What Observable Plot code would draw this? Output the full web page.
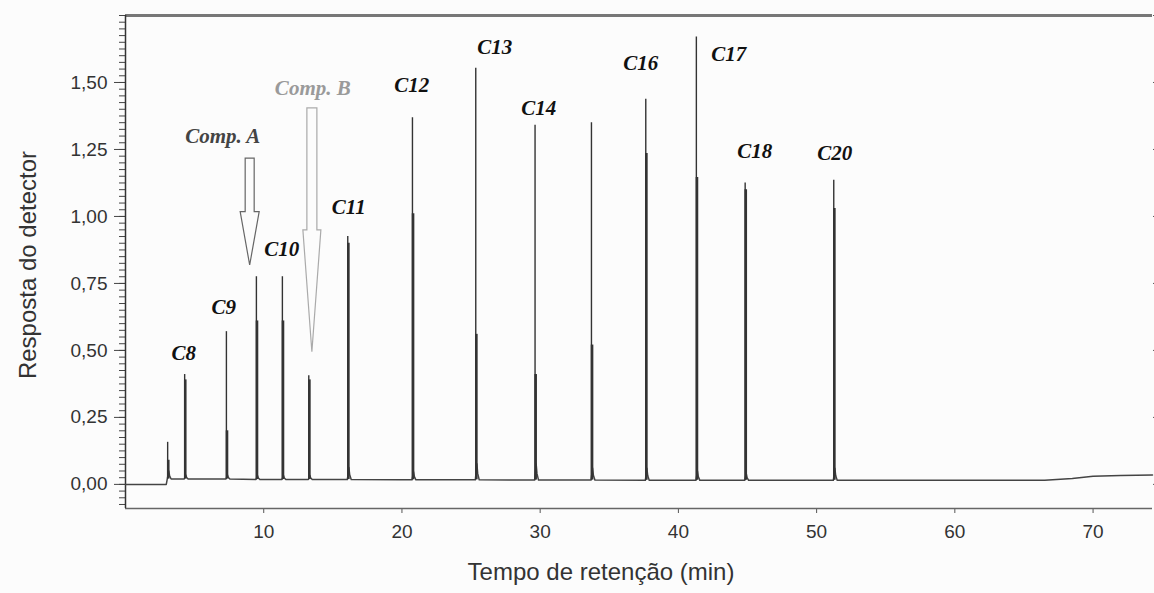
<!DOCTYPE html>
<html>
<head>
<meta charset="utf-8">
<script src="https://cdn.jsdelivr.net/npm/d3@7"></script>
<script src="https://cdn.jsdelivr.net/npm/@observablehq/plot@0.6"></script>
<style>
  html, body { margin: 0; padding: 0; background: #fcfcfc; }
  #chart { width: 1154px; height: 593px; }
</style>
</head>
<body>
<div id="chart"></div>
<script>
// ---- Data ----
const peakTimes     = [3.05, 4.28, 7.30, 9.47, 11.35, 13.26, 16.08, 20.76, 25.34, 29.63, 33.71, 37.64, 41.30, 44.83, 51.24];
const peakTops      = [0.157, 0.41, 0.57, 0.775, 0.775, 0.405, 0.925, 1.368, 1.553, 1.340, 1.350, 1.437, 1.670, 1.125, 1.135];
const peakShoulders = [0.09, 0.39, 0.20, 0.61, 0.61, 0.39, 0.90, 1.01, 0.56, 0.41, 0.52, 1.235, 1.145, 1.10, 1.03];
const peakTails     = [0.03, 0.015, 0.015, 0.015, 0.015, 0.015, 0.045, 0.03, 0.06, 0.06, 0.045, 0.045, 0.035, 0.025, 0.045];
const peakBases     = [0.02, 0.02, 0.02, 0.018, 0.018, 0.018, 0.018, 0.017, 0.017, 0.016, 0.016, 0.015, 0.015, 0.015, 0.015];

const baseTimes  = [0, 2.95, 5.5, 20, 40, 60, 66.5, 68.5, 70, 72, 74.3];
const baseLevels = [0, 0, 0.02, 0.017, 0.015, 0.015, 0.015, 0.022, 0.03, 0.033, 0.035];

const labelTexts = ["C8", "C9", "Comp. A", "C10", "Comp. B", "C11", "C12", "C13", "C14", "C16", "C17", "C18", "C20"];
const labelX     = [4.21, 7.11, 7.03, 11.30, 13.55, 16.15, 20.71, 26.71, 29.90, 37.28, 43.65, 45.53, 51.32];
const labelY     = [0.49, 0.66, 1.30, 0.877, 1.48, 1.034, 1.489, 1.63, 1.403, 1.571, 1.604, 1.243, 1.235];
const labelKind  = ["c", "c", "a", "c", "b", "c", "c", "c", "c", "c", "c", "c", "c"];

const arrowNames = ["Comp. A", "Comp. B"];
const arrowX     = [9.02, 13.52];
const arrowTop   = [1.216, 1.403];
const arrowHead  = [1.016, 0.948];
const arrowTip   = [0.817, 0.493];

const yMajorTicks = [0, 0.25, 0.5, 0.75, 1.0, 1.25, 1.5];
const yMinorTicks = d3.range(-3, 71).map(i => i * 0.025);
const yRightTicks = [0, 0.25, 0.5, 0.75, 1.0, 1.25, 1.5, 1.75];
const xTicks = [10, 20, 30, 40, 50, 60, 70];

// ---- Build tables ----
const peaks = peakTimes.map((t, i) => ({t, top: peakTops[i], shoulder: peakShoulders[i], tail: peakTails[i], base: peakBases[i]}));
let basePts = baseTimes.map((t, i) => ({t, v: baseLevels[i]}));
peaks.forEach(p => {
  basePts.push({t: p.t - 0.03, v: p.base});
  basePts.push({t: p.t + 0.08, v: p.base + p.tail});
  basePts.push({t: p.t + 0.14, v: p.base + p.tail * 0.4});
  basePts.push({t: p.t + 0.25, v: p.base});
});
basePts.sort((a, b) => a.t - b.t);

const labels = labelTexts.map((s, i) => ({s, x: labelX[i], y: labelY[i], kind: labelKind[i]}));
const arrows = arrowNames.map((n, i) => ({n, x: arrowX[i], top: arrowTop[i], head: arrowHead[i], tip: arrowTip[i]}));
const labelColor = {c: "#111", a: "#444", b: "#9a9a9a"};
const arrowColor = {"Comp. A": "#666", "Comp. B": "#aaa"};
const arrowSize = {"Comp. A": [4.5, 9.5], "Comp. B": [5, 9]};

const fmt = d => d.toFixed(2).replace(".", ",");
const yTop = 1.75, yBottom = -0.09;

const chart = Plot.plot({
  width: 1154,
  height: 593,
  marginLeft: 125,
  marginRight: 2,
  marginTop: 15,
  marginBottom: 85,
  style: {background: "#fcfcfc", fontFamily: "Liberation Sans, Arial, sans-serif", fontSize: "19px", color: "#333"},
  x: {domain: [0, 74.3]},
  y: {domain: [yBottom, yTop]},
  marks: [
    // axes
    Plot.axisY({ticks: yMinorTicks, tickSize: 6, tickFormat: () => "", label: null, stroke: "#444"}),
    Plot.axisY({ticks: yMajorTicks, tickSize: 11, tickPadding: 7, tickFormat: fmt, label: null, stroke: "#444", fill: "#333"}),
    Plot.axisY({anchor: "right", ticks: yRightTicks, tickSize: 4, tickFormat: () => "", label: null, stroke: "#555"}),
    Plot.axisX({ticks: xTicks, tickSize: 5, tickPadding: 11, tickFormat: d => String(d), label: null, stroke: "#555", fill: "#333"}),
    Plot.ruleY([yTop], {stroke: "#777", strokeWidth: 3}),
    Plot.ruleY([yBottom], {stroke: "#666", strokeWidth: 1.5}),
    Plot.ruleX([0], {stroke: "#333", strokeWidth: 1.5}),
    // axis titles
    Plot.text(["Resposta do detector"], {frameAnchor: "left", dx: -97, dy: 3, rotate: -90, fontSize: 24, fill: "#333", textAnchor: "middle"}),
    Plot.text(["Tempo de retenção (min)"], {frameAnchor: "bottom", dx: -38, dy: 71, fontSize: 24, fill: "#333", textAnchor: "middle"}),
    // chromatogram
    Plot.line(basePts, {x: "t", y: "v", stroke: "#444", strokeWidth: 1.5}),
    Plot.ruleX(peaks, {x: "t", y1: "base", y2: "top", stroke: "#333", strokeWidth: 1.4}),
    Plot.ruleX(peaks, {x: "t", y1: "base", y2: "shoulder", stroke: "#333", strokeWidth: 2.6, dx: 0.6}),
    // arrows
    Plot.dot(arrows, {
      x: "x", y: "top",
      render: (index, scales) => {
        const g = d3.create("svg:g");
        for (const i of index) {
          const a = arrows[i];
          const cx = scales.x(a.x), y0 = scales.y(a.top), yh = scales.y(a.head), yt = scales.y(a.tip);
          const [sw, hw] = arrowSize[a.n];
          const d = `M${cx - sw},${y0}L${cx + sw},${y0}L${cx + sw},${yh}L${cx + hw},${yh}L${cx},${yt}L${cx - hw},${yh}L${cx - sw},${yh}Z`;
          g.append("path").attr("d", d).attr("fill", "#fcfcfc").attr("stroke", arrowColor[a.n]).attr("stroke-width", 1.2);
        }
        return g.node();
      }
    }),
    // labels
    Plot.text(labels, {
      x: "x", y: "y", text: "s",
      fill: d => labelColor[d.kind],
      fontFamily: "Liberation Serif, Times New Roman, serif",
      fontWeight: "bold", fontStyle: "italic", fontSize: 21,
      textAnchor: "middle"
    })
  ]
});
document.getElementById("chart").appendChild(chart);
</script>
</body>
</html>
